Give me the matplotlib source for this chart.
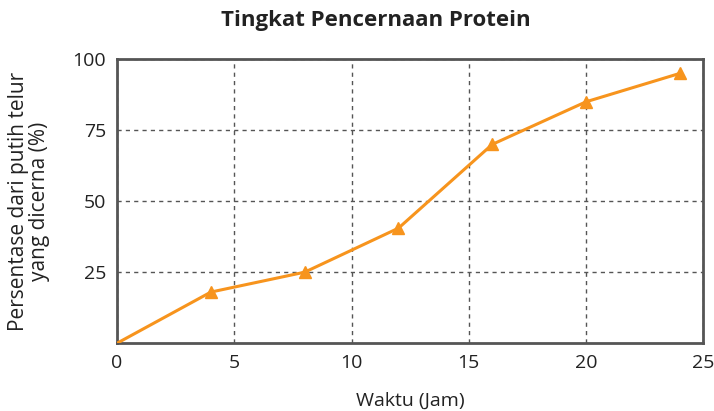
import matplotlib
matplotlib.use("Agg")
import matplotlib.pyplot as plt

plt.rcParams["font.family"] = ["Open Sans", "DejaVu Sans"]

# data
jam = [0, 4, 8, 12, 16, 20, 24]
persen = [0, 18, 25, 40.5, 70, 85, 95]
x_ticks = [0, 5, 10, 15, 20, 25]
y_ticks = [25, 50, 75, 100]

ORANGE = "#F7941D"
FRAME = "#555555"

fig = plt.figure(figsize=(7.14, 4.11), dpi=100)
ax = fig.add_axes([0.164, 0.165, 0.821, 0.691])

ax.plot(jam, persen, color=ORANGE, lw=2.2, zorder=3)
ax.plot(jam[1:], persen[1:], ls="none", marker="^", ms=8, color=ORANGE, zorder=4)

ax.set_xlim(0, 25)
ax.set_ylim(0, 100)
ax.set_xticks(x_ticks)
ax.set_yticks(y_ticks)
ax.tick_params(length=0, labelsize=14, pad=8, colors="#222222")

ax.grid(True, ls=(0, (3, 3)), color=FRAME, lw=1)
for s in ax.spines.values():
    s.set_color(FRAME)
    s.set_linewidth(2)

ax.set_xlabel("Waktu (Jam)", fontsize=14, labelpad=14, color="#222222")
ax.set_ylabel("Persentase dari putih telur\nyang dicerna (%)", fontsize=15,
              labelpad=16, color="#222222", linespacing=1.0)
fig.text(0.527, 0.951, "Tingkat Pencernaan Protein", ha="center", va="center",
         fontsize=16, fontweight="bold", color="#222222")

fig.savefig("out.png", dpi=100)
